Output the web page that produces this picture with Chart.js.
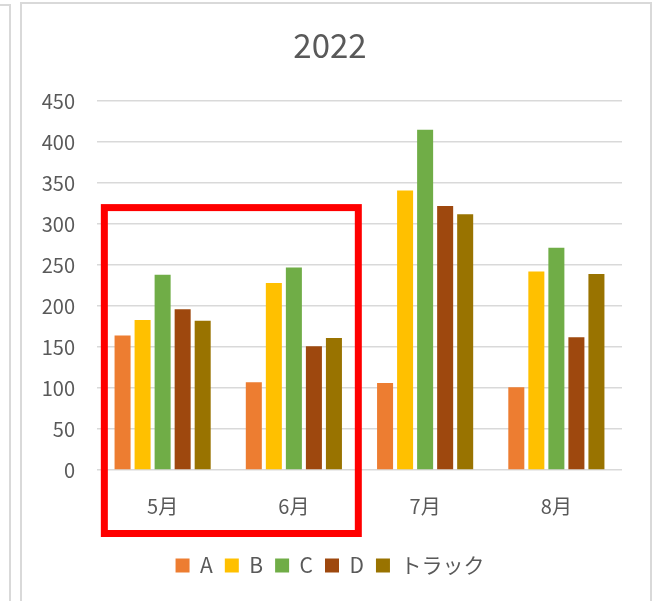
<!DOCTYPE html>
<html>
<head>
<meta charset="utf-8">
<script src="https://cdn.jsdelivr.net/npm/chart.js@4"></script>
<style>
  body { margin: 0; background: #fff; }
  #wrap { position: relative; width: 659px; height: 601px; overflow: hidden; }
  .frame { position: absolute; border: 2px solid #d9d9d9; box-sizing: border-box; }
  #prev { left: -50px; top: 4px; width: 61px; height: 700px; }
  #box { left: 20px; top: 2px; width: 632px; height: 700px; }
  canvas { position: absolute; left: 0; top: 0; }
</style>
</head>
<body>
<div id="wrap">
  <div class="frame" id="prev"></div>
  <div class="frame" id="box"></div>
  <canvas id="chart" width="659" height="601"></canvas>
</div>
<script>
var months = ['5月', '6月', '7月', '8月'];
var seriesA = [164, 107, 106, 101];
var seriesB = [183, 228, 341, 242];
var seriesC = [238, 247, 415, 271];
var seriesD = [196, 151, 322, 162];
var seriesTruck = [182, 161, 312, 239];
var yTicks = [0, 50, 100, 150, 200, 250, 300, 350, 400, 450];

var font = '"Noto Sans CJK JP", "Noto Sans", sans-serif';
var textColor = '#595959';

// red box drawn around the first two months
var redBox = {
    id: 'redBox',
    afterDraw: function(chart) {
        var x = chart.scales.x, y = chart.scales.y;
        var step = x.getPixelForValue(1) - x.getPixelForValue(0);
        var left = x.getPixelForValue(0) - step * 0.444;
        var right = x.getPixelForValue(1) + step * 0.491;
        var top = y.getPixelForValue(320);
        var bottom = chart.chartArea.bottom + 63.5;
        var ctx = chart.ctx;
        ctx.save();
        ctx.strokeStyle = '#ff0000';
        ctx.lineWidth = 7;
        ctx.strokeRect(left, top, right - left, bottom - top);
        ctx.restore();
    }
};

var ctx = document.getElementById('chart').getContext('2d');
var chart = new Chart(ctx, {
    type: 'bar',
    data: {
        labels: months,
        datasets: [
            { label: 'A', data: seriesA, backgroundColor: '#ED7D31' },
            { label: 'B', data: seriesB, backgroundColor: '#FFC000' },
            { label: 'C', data: seriesC, backgroundColor: '#70AD47' },
            { label: 'D', data: seriesD, backgroundColor: '#9E480E' },
            { label: 'トラック', data: seriesTruck, backgroundColor: '#997300' }
        ]
    },
    options: {
        responsive: false,
        animation: false,
        categoryPercentage: 0.763,
        barPercentage: 0.8,
        layout: { padding: { left: 38, right: 37, top: 0, bottom: 15 } },
        plugins: {
            title: {
                display: true,
                text: '2022',
                color: textColor,
                font: { family: font, size: 33, weight: 'normal' },
                padding: { top: 26, bottom: 35.4 }
            },
            legend: {
                position: 'bottom',
                labels: {
                    color: textColor,
                    font: { family: font, size: 21 },
                    boxWidth: 14,
                    boxHeight: 14,
                    padding: 12
                }
            },
            tooltip: { enabled: false }
        },
        scales: {
            x: {
                grid: { display: false, drawTicks: false },
                border: { display: false },
                ticks: { color: textColor, font: { family: font, size: 20 }, padding: 24 },
                afterFit: function(scale) { scale.height = 73; }
            },
            y: {
                min: 0,
                max: 450,
                afterBuildTicks: function(scale) {
                    scale.ticks = yTicks.map(function(v) { return { value: v }; });
                },
                grid: { color: '#d9d9d9', lineWidth: 1.5, drawTicks: false },
                border: { display: false },
                ticks: { color: textColor, font: { family: font, size: 20 }, padding: 22 },
                afterFit: function(scale) { scale.width = 59; }
            }
        }
    },
    plugins: [redBox]
});
</script>
</body>
</html>
